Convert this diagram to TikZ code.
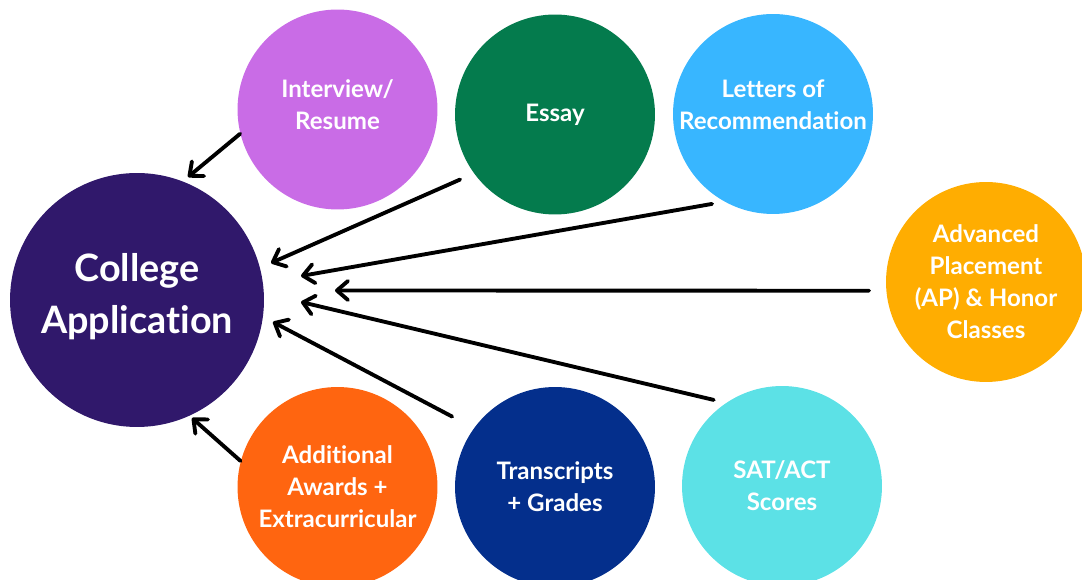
\documentclass[tikz,border=0pt]{standalone}
\usepackage{fontspec}
\setmainfont{Lato}[Ligatures=NoCommon]
\usepackage{tikz}
\usetikzlibrary{arrows.meta,positioning}
\definecolor{collegepurple}{HTML}{30186B}
\definecolor{lavender}{HTML}{C96CE6}
\definecolor{essaygreen}{HTML}{047B4D}
\definecolor{skyblue}{HTML}{38B6FF}
\definecolor{amber}{HTML}{FFAD01}
\definecolor{tangerine}{HTML}{FF6510}
\definecolor{navy}{HTML}{042F8C}
\definecolor{turquoise}{HTML}{5CE1E6}
\tikzset{
    bubble/.style={
        circle,inner sep=0pt,
        minimum size=4cm,
        align=center,text=white,
        font=\bfseries\fontsize{13.7}{18.2}\selectfont
    },
    hub/.style={bubble,
        minimum size=5.08cm,
        font=\bfseries\fontsize{21.5}{29.5}\selectfont
    },
    feed/.style={
        line width=2.2pt,line cap=round,
        -{Straight Barb[length=2.2mm,width=3.8mm,line cap=round,line join=round]}
    },
}

\begin{document}
\begin{tikzpicture}[x=0.02cm,y=-0.02cm]
		\useasboundingbox (0,0) rectangle (1082,580);
		\node[hub,fill=collegepurple,text depth=7pt] (college) at (137,300) {College\\Application};

		\node[bubble,fill=lavender,text depth=6pt]   (intv)    at (337.5,109.5) {Interview/\\Resume};
		\node[bubble,fill=essaygreen] (essay)  at (555,114.5) {Essay};
		\node[bubble,fill=skyblue,text depth=11pt]   (letters) at (773,114) {Letters of\\Recommendation};
		\node[bubble,fill=amber]     (ap)      at (986,282) {Advanced\\Placement\\(AP) \& Honor\\Classes};
		\node[bubble,fill=tangerine] (awards)  at (337.5,487) {Additional\\Awards +\\Extracurricular};
		\node[bubble,fill=navy]      (grades)  at (555,487) {Transcripts\\+ Grades};
		\node[bubble,fill=turquoise] (scores)  at (782,486) {SAT/ACT\\Scores};

		% arrow tips next to the hub
		\coordinate (tipI) at (188,177);
		\coordinate (tipE) at (271,263);
		\coordinate (tipL) at (301,276);
		\coordinate (tipA) at (335,290.5);
		\coordinate (tipS) at (301,302);
		\coordinate (tipT) at (273,322);
		\coordinate (tipW) at (192,418);

		\foreach \src/\ang/\gap/\tip in {intv/194/0/tipI,essay/216/3/tipE,letters/241.5/2.5/tipL,
			ap/185/3.4/tipA,scores/124.8/2.5/tipS,grades/144.3/4.9/tipT,awards/165.6/0/tipW}
		\draw[feed,shorten <=\gap mm] (\src.\ang) -- (\tip);
	\end{tikzpicture}
\end{document}
